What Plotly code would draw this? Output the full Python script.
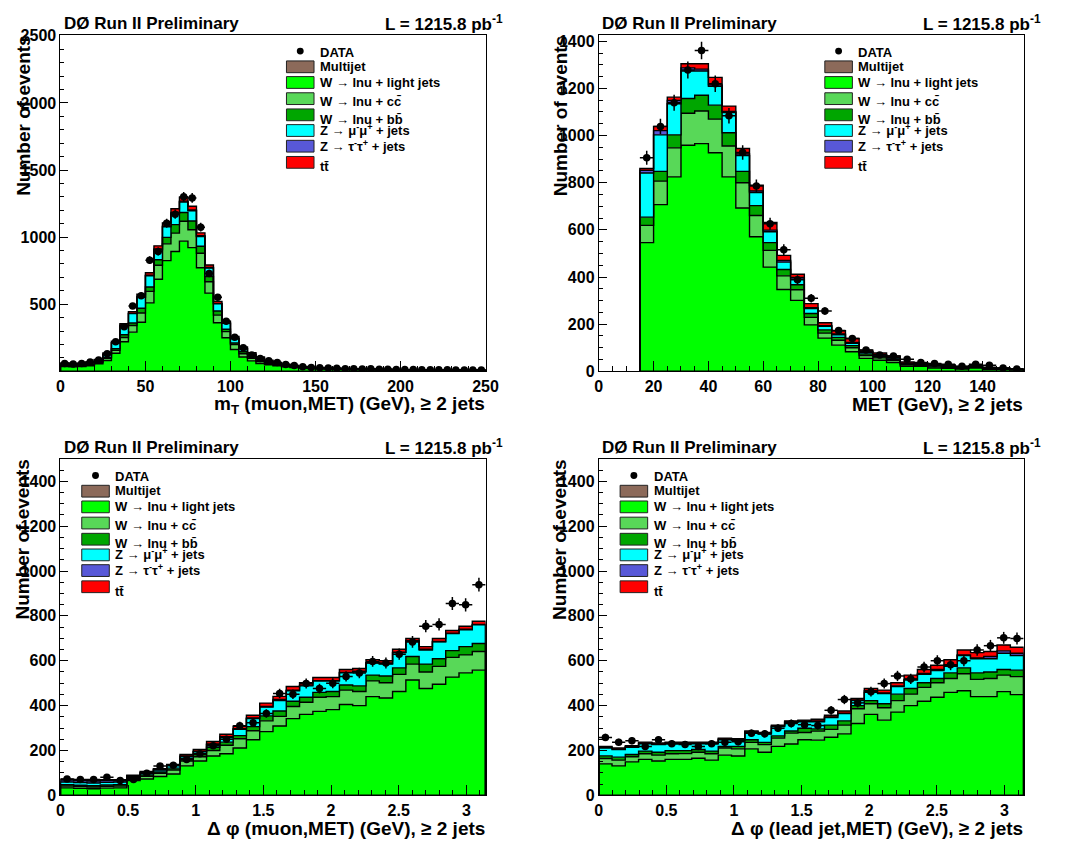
import numpy as np
import plotly.graph_objects as go

W_PX, H_PX = 1076, 854
FONT = "Liberation Sans, Arial, Helvetica, sans-serif"

# ------------------------------------------------------------------ data
# Panel 1: m_T(muon,MET), 50 bins, 0-250 GeV
mt_lo, mt_hi, mt_n = 0.0, 250.0, 50
mt_data = [59, 54, 59, 69, 85, 131, 221, 333, 486, 564, 828, 892, 1103, 1171, 1300, 1292, 1074, 729, 552, 374,
           253, 175, 121, 95, 78, 66, 51, 44, 34, 29, 27, 24, 22, 20, 19, 17, 20, 16, 15, 14,
           13, 13, 12, 12, 11, 11, 10, 10, 10, 9]
mt_multijet = [0, 0, 0, 0, 0, 0, 0, 0, 0, 0, 0, 0, 0, 0, 0, 0, 0, 0, 0, 0, 0, 0, 0, 0, 0,
               0, 0, 0, 0, 0, 0, 0, 0, 0, 0, 0, 0, 0, 0, 0, 0, 0, 0, 0, 0, 0, 0, 0, 0, 0]
mt_wlight = [36, 34, 35, 42, 56, 80, 135, 220, 292, 366, 510, 686, 825, 893, 970, 922, 772, 583, 362, 250,
             163, 107, 78, 58, 49, 41, 34, 29, 24, 20, 18, 16, 15, 14, 13, 12, 11, 10, 10, 9,
             9, 9, 8, 8, 8, 7, 7, 7, 6, 6]
mt_wcc = [6, 5, 6, 7, 9, 16, 22, 32, 50, 69, 86, 104, 125, 137, 148, 133, 108, 85, 57, 46,
          36, 24, 19, 15, 11, 8, 6, 5, 4, 4, 3, 3, 3, 2, 2, 2, 2, 2, 2, 2,
          1, 1, 1, 1, 1, 1, 1, 1, 1, 1]
mt_wbb = [6, 5, 6, 6, 8, 8, 12, 20, 18, 35, 32, 41, 48, 63, 65, 65, 52, 39, 31, 17,
          12, 15, 12, 9, 7, 5, 4, 3, 2, 2, 2, 2, 1, 1, 1, 1, 1, 1, 1, 1,
          1, 1, 1, 1, 1, 1, 1, 1, 1, 1]
mt_zmumu = [10, 10, 9, 11, 11, 20, 42, 67, 70, 81, 84, 75, 78, 84, 79, 77, 73, 63, 53, 44,
            32, 22, 17, 14, 8, 6, 4, 3, 3, 2, 2, 2, 2, 2, 1, 1, 1, 1, 1, 1,
            1, 1, 1, 1, 1, 1, 1, 1, 1, 1]
mt_ztautau = [2, 2, 2, 2, 2, 3, 3, 4, 4, 5, 5, 5, 5, 6, 6, 5, 5, 4, 3, 3,
              3, 2, 2, 2, 1, 1, 1, 1, 0, 0, 0, 0, 0, 0, 0, 0, 0, 0, 0, 0,
              0, 0, 0, 0, 0, 0, 0, 0, 0, 0]
mt_ttbar = [2, 2, 2, 2, 2, 9, 10, 12, 11, 18, 17, 24, 25, 28, 30, 28, 22, 18, 15, 14,
            14, 12, 10, 9, 7, 5, 4, 3, 3, 3, 3, 2, 2, 2, 2, 2, 2, 2, 1, 1,
            1, 1, 1, 1, 1, 1, 1, 1, 1, 1]

# Panel 2: MET, 28 bins, 15-155 GeV
met_lo, met_hi, met_n = 15.0, 155.0, 28
met_data = [906, 1039, 1139, 1278, 1361, 1220, 1084, 928, 786, 626, 516, 388, 310, 256, 173, 139, 90, 69,
            65, 51, 37, 33, 30, 21, 30, 26, 14, 10]
met_multijet = [0, 0, 0, 0, 0, 0, 0, 0, 0, 0, 0, 0, 0, 0, 0, 0, 0, 0, 0, 0, 0, 0, 0, 0, 0, 0, 0, 0]
met_wlight = [546, 707, 825, 959, 966, 927, 825, 693, 571, 442, 347, 301, 197, 141, 111, 83, 55, 47,
              37, 21, 21, 14, 13, 10, 14, 8, 7, 5]
met_wcc = [73, 100, 123, 136, 138, 143, 131, 107, 90, 71, 58, 45, 32, 21, 21, 17, 12, 10,
           9, 6, 5, 5, 4, 3, 3, 3, 2, 2]
met_wbb = [35, 41, 55, 62, 67, 59, 56, 48, 42, 33, 27, 21, 16, 14, 12, 9, 7, 6,
           5, 3, 3, 3, 3, 2, 2, 2, 1, 1]
met_zmumu = [187, 155, 132, 117, 103, 80, 86, 67, 55, 46, 31, 24, 21, 15, 11, 10, 7, 6,
             5, 4, 3, 3, 3, 2, 2, 2, 2, 1]
met_ztautau = [12, 18, 14, 13, 8, 6, 4, 7, 7, 7, 7, 7, 4, 3, 3, 3, 2, 2,
               2, 1, 1, 1, 1, 1, 0, 0, 0, 0]
met_ttbar = [8, 18, 14, 18, 23, 32, 23, 23, 24, 32, 22, 14, 17, 12, 14, 17, 7, 7,
             7, 5, 4, 4, 4, 3, 3, 2, 2, 1]

# Panel 3: delta phi(muon,MET), 32 bins, 0-pi
dpm_lo, dpm_hi, dpm_n = 0.0, np.pi, 32
dpm_data = [73, 70, 70, 80, 66, 70, 98, 131, 134, 160, 185, 221, 250, 310, 324, 365,
            454, 451, 498, 476, 500, 530, 545, 597, 590, 629, 684, 754, 762, 855, 849, 939]
dpm_multijet = [0, 0, 0, 0, 0, 0, 0, 0, 0, 0, 0, 0, 0, 0, 0, 0, 0, 0, 0, 0, 0, 0, 0, 0, 0, 0, 0, 0, 0, 0, 0, 0]
dpm_wlight = [33, 31, 29, 32, 33, 66, 73, 84, 95, 131, 153, 175, 185, 211, 248, 284,
              309, 342, 361, 374, 382, 405, 400, 440, 434, 463, 514, 476, 495, 527, 546, 558]
dpm_wcc = [8, 8, 8, 8, 8, 8, 12, 14, 18, 22, 19, 25, 38, 41, 40, 48,
           43, 54, 54, 63, 58, 64, 63, 70, 68, 76, 71, 74, 80, 88, 80, 83]
dpm_wbb = [6, 6, 6, 6, 6, 5, 6, 6, 8, 10, 10, 14, 14, 14, 18, 22,
           24, 23, 22, 22, 23, 23, 25, 26, 30, 29, 34, 35, 34, 30, 37, 36]
dpm_zmumu = [12, 12, 12, 12, 12, 6, 9, 9, 11, 9, 12, 12, 21, 28, 36, 39,
             46, 47, 51, 51, 47, 54, 62, 54, 53, 68, 68, 63, 75, 76, 75, 83]
dpm_ztautau = [9, 9, 9, 9, 8, 2, 2, 2, 2, 3, 3, 3, 3, 3, 3, 3,
               5, 3, 3, 1, 1, 2, 3, 1, 2, 2, 2, 3, 2, 2, 2, 2]
dpm_ttbar = [4, 4, 4, 3, 3, 3, 4, 4, 4, 7, 7, 11, 11, 11, 12, 15,
             14, 16, 11, 14, 14, 13, 12, 14, 13, 13, 10, 12, 13, 12, 14, 14]

# Panel 4: delta phi(lead jet,MET), 32 bins, 0-pi
dpj_lo, dpj_hi, dpj_n = 0.0, np.pi, 32
dpj_data = [258, 237, 243, 218, 248, 230, 227, 218, 230, 236, 239, 277, 274, 299, 320, 315,
            311, 379, 427, 412, 462, 498, 532, 519, 572, 600, 582, 600, 648, 667, 702, 699]
dpj_multijet = [0, 0, 0, 0, 0, 0, 0, 0, 0, 0, 0, 0, 0, 0, 0, 0, 0, 0, 0, 0, 0, 0, 0, 0, 0, 0, 0, 0, 0, 0, 0, 0]
dpj_wlight = [140, 131, 149, 160, 153, 160, 160, 165, 157, 179, 175, 207, 192, 218, 229, 248,
              246, 259, 274, 320, 361, 335, 371, 400, 419, 437, 459, 466, 440, 440, 462, 449]
dpj_wcc = [24, 26, 23, 25, 26, 25, 26, 27, 28, 32, 32, 29, 34, 37, 48, 32,
           40, 35, 39, 66, 47, 55, 51, 51, 62, 65, 62, 76, 77, 81, 74, 80]
dpj_wbb = [12, 13, 10, 12, 13, 14, 13, 12, 12, 7, 11, 12, 10, 10, 10, 19,
           10, 19, 19, 14, 14, 18, 29, 25, 21, 19, 25, 26, 29, 29, 25, 29]
dpj_zmumu = [35, 34, 32, 33, 34, 31, 31, 26, 33, 30, 27, 32, 37, 41, 38, 29,
             32, 34, 32, 22, 37, 46, 34, 38, 37, 35, 29, 55, 63, 59, 72, 65]
dpj_ztautau = [3, 3, 3, 3, 3, 3, 3, 3, 3, 3, 3, 3, 3, 3, 3, 3,
               3, 2, 2, 3, 7, 2, 3, 3, 4, 5, 5, 3, 3, 10, 11, 10]
dpj_ttbar = [4, 4, 4, 4, 4, 4, 4, 4, 4, 4, 4, 4, 4, 4, 4, 4,
             8, 8, 10, 7, 10, 13, 14, 19, 18, 19, 24, 22, 24, 22, 26, 27]

legend_labels = ["DATA", "Multijet", "W \u2192 lnu + light jets", "W \u2192 lnu + cc\u0304",
                 "W \u2192 lnu + bb\u0304", "Z \u2192 \u03bc<sup>-</sup>\u03bc<sup>+</sup> + jets",
                 "Z \u2192 \u03c4<sup>-</sup>\u03c4<sup>+</sup> + jets", "tt\u0304"]
stack_colors = ["#8c6a5a", "#00ff00", "#58d858", "#00a600", "#00ffff", "#5858d8", "#ff0000"]

x_titles = ["m<sub>T</sub> (muon,MET) (GeV), \u2265 2 jets",
            "MET (GeV), \u2265 2 jets",
            "\u0394 \u03c6 (muon,MET) (GeV), \u2265 2 jets",
            "\u0394 \u03c6 (lead jet,MET) (GeV), \u2265 2 jets"]
y_title = "Number of events"
exp_label = "D\u00d8 Run II Preliminary"
lumi_label = "L = 1215.8 pb<sup>-1</sup>"

# ------------------------------------------------------------------ layout geometry (pixels)
panels = [
    dict(ax="", lo=mt_lo, hi=mt_hi, n=mt_n, data=mt_data,
         comps=[mt_multijet, mt_wlight, mt_wcc, mt_wbb, mt_zmumu, mt_ztautau, mt_ttbar],
         xpx=(57.3, 489.3), ypx=(27.7, 370.7), xr=[0, 250], yr=[0, 2505],
         xt=[0, 50, 100, 150, 200, 250], xtt=None, xminor=10,
         yt=[500, 1000, 1500, 2000, 2500], yminor=100,
         leg=(287, 45), ytx=19),
    dict(ax="2", lo=met_lo, hi=met_hi, n=met_n, data=met_data,
         comps=[met_multijet, met_wlight, met_wcc, met_wbb, met_zmumu, met_ztautau, met_ttbar],
         xpx=(604.3, 1036.0), ypx=(27.7, 370.7), xr=[0, 155], yr=[0, 1426],
         xt=[0, 20, 40, 60, 80, 100, 120, 140], xtt=None, xminor=5,
         yt=[0, 200, 400, 600, 800, 1000, 1200, 1400], yminor=50,
         leg=(834, 45), ytx=565),
    dict(ax="3", lo=dpm_lo, hi=dpm_hi, n=dpm_n, data=dpm_data,
         comps=[dpm_multijet, dpm_wlight, dpm_wcc, dpm_wbb, dpm_zmumu, dpm_ztautau, dpm_ttbar],
         xpx=(57.3, 489.3), ypx=(460.0, 803.3), xr=[0, np.pi], yr=[0, 1500],
         xt=[0, 0.5, 1, 1.5, 2, 2.5, 3], xtt=["0", "0.5", "1", "1.5", "2", "2.5", "3"], xminor=0.1,
         yt=[0, 200, 400, 600, 800, 1000, 1200, 1400], yminor=50,
         leg=(79, 478), ytx=19),
    dict(ax="4", lo=dpj_lo, hi=dpj_hi, n=dpj_n, data=dpj_data,
         comps=[dpj_multijet, dpj_wlight, dpj_wcc, dpj_wbb, dpj_zmumu, dpj_ztautau, dpj_ttbar],
         xpx=(604.3, 1036.0), ypx=(460.0, 803.3), xr=[0, np.pi], yr=[0, 1500],
         xt=[0, 0.5, 1, 1.5, 2, 2.5, 3], xtt=["0", "0.5", "1", "1.5", "2", "2.5", "3"], xminor=0.1,
         yt=[0, 200, 400, 600, 800, 1000, 1200, 1400], yminor=50,
         leg=(626, 478), ytx=565),
]


def fx(px):
    return px / W_PX


def fy(py):
    return 1.0 - py / H_PX


fig = go.Figure()
layout_axes = {}
tickfont = dict(family=FONT, size=16, color="black", weight="bold")

for p in panels:
    xa, ya = "x" + p["ax"], "y" + p["ax"]
    edges = np.linspace(p["lo"], p["hi"], p["n"] + 1)
    cum = np.zeros(p["n"])
    for j, comp in enumerate(p["comps"]):
        cum = cum + np.asarray(comp, dtype=float)
        xs = np.concatenate([[edges[0]], edges[:-1], [edges[-1], edges[-1]]])
        ys = np.concatenate([[0.0], cum, [cum[-1], 0.0]])
        fig.add_trace(go.Scatter(
            x=xs, y=ys, mode="lines", xaxis=xa, yaxis=ya,
            line=dict(shape="hv", color="black", width=1.4),
            fill="tozeroy" if j == 0 else "tonexty", fillcolor=stack_colors[j],
            hoverinfo="skip", showlegend=False))
    centers = 0.5 * (edges[:-1] + edges[1:])
    d = np.asarray(p["data"], dtype=float)
    fig.add_trace(go.Scatter(
        x=centers, y=d, mode="markers", xaxis=xa, yaxis=ya,
        marker=dict(symbol="circle", size=7.5, color="black"),
        error_y=dict(type="data", array=np.sqrt(d), color="black", thickness=1.5, width=0),
        error_x=dict(type="constant", value=0.5 * (edges[1] - edges[0]), color="black", thickness=1.5, width=0),
        hoverinfo="skip", showlegend=False))

    x_key = "xaxis" + p["ax"]
    y_key = "yaxis" + p["ax"]
    xaxis = dict(domain=[fx(p["xpx"][0]), fx(p["xpx"][1])], range=p["xr"], anchor=ya,
                 showline=True, mirror=True, linecolor="black", linewidth=1,
                 showgrid=False, zeroline=False,
                 ticks="inside", ticklen=10, tickwidth=1, tickcolor="black",
                 tickmode="array", tickvals=p["xt"], tickfont=tickfont,
                 minor=dict(ticks="inside", ticklen=5, tickwidth=1, tickcolor="black",
                            tickmode="linear", tick0=0, dtick=p["xminor"], showgrid=False))
    if p["xtt"] is not None:
        xaxis["ticktext"] = p["xtt"]
    yaxis = dict(domain=[fy(p["ypx"][1]), fy(p["ypx"][0])], range=p["yr"], anchor=xa,
                 showline=True, mirror=True, linecolor="black", linewidth=1,
                 showgrid=False, zeroline=False,
                 ticks="inside", ticklen=8, tickwidth=1, tickcolor="black",
                 tickmode="array", tickvals=p["yt"], tickfont=tickfont,
                 minor=dict(ticks="inside", ticklen=4, tickwidth=1, tickcolor="black",
                            tickmode="linear", tick0=0, dtick=p["yminor"], showgrid=False))
    layout_axes[x_key] = xaxis
    layout_axes[y_key] = yaxis

fig.update_layout(
    width=W_PX, height=H_PX, margin=dict(l=0, r=0, t=0, b=0),
    paper_bgcolor="white", plot_bgcolor="white", showlegend=False,
    font=dict(family=FONT, color="black"),
    **layout_axes)


def ann(text, px, py, size, xanchor="left", yanchor="middle", angle=0):
    fig.add_annotation(text=text, x=fx(px), y=fy(py), xref="paper", yref="paper",
                       xanchor=xanchor, yanchor=yanchor, showarrow=False, textangle=angle,
                       borderpad=0,
                       font=dict(family=FONT, size=size, color="black", weight="bold"))


# legend geometry relative to legend anchor (box left, DATA row y)
box_dy = [15, 31, 47.5, 64, 80, 96, 112.5]
text_dy = [0, 14.5, 30.7, 50, 68.3, 79.3, 95.3, 117]

for i, p in enumerate(panels):
    x0, x1 = p["xpx"]
    y0, y1 = p["ypx"]
    top_y = y0 - 12
    ann(exp_label, x0 + 2.5, top_y, 17, "left")
    ann(lumi_label, x1 + 19, top_y, 17, "right")
    ann(x_titles[i], x1, y1 + 34, 19, "right")
    ann(y_title, p["ytx"], y0, 19, "center", "top", -90)

    bx, by = p["leg"]
    # DATA marker
    fig.add_shape(type="circle", xref="paper", yref="paper",
                  x0=fx(bx + 14 - 3.5), x1=fx(bx + 14 + 3.5), y0=fy(by - 1 + 3.5), y1=fy(by - 1 - 3.5),
                  fillcolor="black", line=dict(color="black", width=0))
    for k in range(7):
        cy = by + box_dy[k]
        fig.add_shape(type="rect", xref="paper", yref="paper",
                      x0=fx(bx), x1=fx(bx + 28), y0=fy(cy + 6), y1=fy(cy - 6),
                      fillcolor=stack_colors[k], line=dict(color="#222222", width=1))
    for k, lab in enumerate(legend_labels):
        ann(lab, bx + 33, by + text_dy[k], 13, "left")

fig.write_html("out.html", config={"displayModeBar": False},
               post_script="document.body.style.margin='0';document.body.style.overflow='hidden';")
